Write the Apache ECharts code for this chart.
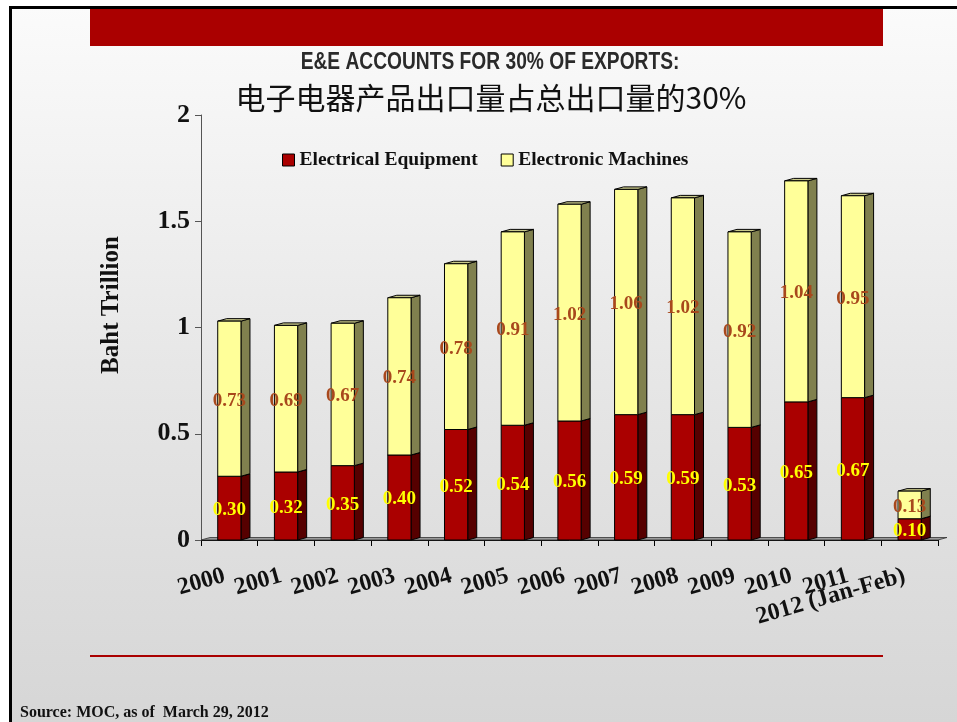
<!DOCTYPE html>
<html>
<head>
<meta charset="utf-8">
<script src="https://cdn.jsdelivr.net/npm/echarts@6/dist/echarts.min.js"></script>
<style>
html,body{margin:0;padding:0;background:#fff;}
#main{width:957px;height:722px;}
</style>
</head>
<body>
<div id="main"></div>
<script>
const categories = ['2000','2001','2002','2003','2004','2005','2006','2007','2008','2009','2010','2011','2012 (Jan-Feb)'];
const electricalEquipment = [0.30,0.32,0.35,0.40,0.52,0.54,0.56,0.59,0.59,0.53,0.65,0.67,0.10];
const electronicMachines = [0.73,0.69,0.67,0.74,0.78,0.91,1.02,1.06,1.02,0.92,1.04,0.95,0.13];
const seriesNames = ['Electrical Equipment','Electronic Machines'];
const yTickValues = [0,0.5,1,1.5,2];

const SERIF = '"Liberation Serif","DejaVu Serif",serif';
const DX = 9, DY = 2.5;

function buildData(base, vals){
  return vals.map((v,i)=>[i, base ? base[i] : 0, (base ? base[i] : 0) + v, v]);
}

function make3DRender(front, side, top, labelColor){
  return function(params, api){
    const idx = api.value(0);
    const lo = api.coord([idx, api.value(1)]);
    const hi = api.coord([idx, api.value(2)]);
    const band = api.size([1,0])[0];
    const w = band*0.41;
    const x0 = lo[0]-w/2, x1 = lo[0]+w/2;
    const yb = lo[1], yt = hi[1];
    const stroke = '#000';
    return {
      type:'group',
      children:[
        {type:'polygon', shape:{points:[[x1,yb],[x1+DX,yb-DY],[x1+DX,yt-DY],[x1,yt]]}, style:{fill:side, stroke:stroke, lineWidth:1}},
        {type:'polygon', shape:{points:[[x0,yt],[x0+DX,yt-DY],[x1+DX,yt-DY],[x1,yt]]}, style:{fill:top, stroke:stroke, lineWidth:1}},
        {type:'rect', shape:{x:x0, y:yt, width:w, height:yb-yt}, style:{fill:front, stroke:stroke, lineWidth:1}},
        {type:'text', x:(x0+x1)/2, y:(yb+yt)/2 + 2, z2:10, style:{text:api.value(3).toFixed(2), fill:labelColor, font:'bold 19px '+SERIF, align:'center', verticalAlign:'middle'}}
      ]
    };
  };
}

const chart = echarts.init(document.getElementById('main'));
const gridLeft = 201, gridRight = 19, gridTop = 115, gridBottom = 182;

const option = {
  backgroundColor:'#ffffff',
  animation:false,
  graphic:[
    {type:'rect', z:-10, shape:{x:9,y:6,width:948,height:716}, style:{fill:{type:'linear',x:0,y:0,x2:0,y2:1,colorStops:[{offset:0,color:'#fbfbfb'},{offset:0.5,color:'#e7e7e7'},{offset:1,color:'#d6d6d6'}]}}},
    {type:'rect', z:-5, shape:{x:9,y:6,width:948,height:3}, style:{fill:'#000'}},
    {type:'rect', z:-5, shape:{x:9,y:6,width:3,height:716}, style:{fill:'#000'}},
    {type:'rect', shape:{x:90,y:9,width:793,height:37}, style:{fill:'#AA0000'}},
    {type:'rect', shape:{x:90,y:655,width:793,height:2}, style:{fill:'#AA0000'}},
    {type:'text', x:490, y:62, scaleX:0.8, style:{text:'E&E ACCOUNTS FOR 30% OF EXPORTS:', font:'bold 24px "Liberation Sans Narrow","Liberation Sans",sans-serif', fill:'#2a2a2a', align:'center', verticalAlign:'middle'}},
    {type:'text', x:491, y:98, style:{text:'电子电器产品出口量占总出口量的30%', font:'30px "Noto Sans CJK SC",sans-serif', fill:'#111', align:'center', verticalAlign:'middle'}},
    {type:'text', x:112, y:305, rotation:Math.PI/2, style:{text:'Baht Trillion', font:'bold 25px '+SERIF, fill:'#111', align:'center', verticalAlign:'middle'}},
    {type:'text', x:20, y:713, style:{text:'Source: MOC, as of  March 29, 2012', font:'bold 16px '+SERIF, fill:'#111', align:'left', verticalAlign:'middle'}},
    {type:'polygon', z:1, shape:{points:[[gridLeft,540],[gridLeft+DX,540-DY],[957-gridRight+DX,540-DY],[957-gridRight,540]]}, style:{fill:'#9a9a9a', stroke:'#333', lineWidth:0.8}}
  ],
  legend:{
    left:277, top:145,
    icon:'rect', itemWidth:12, itemHeight:12, itemGap:23,
    itemStyle:{borderColor:'#000', borderWidth:1},
    textStyle:{fontFamily:SERIF, fontWeight:'bold', fontSize:19.5, color:'#111'},
    data:seriesNames
  },
  grid:{left:gridLeft, right:gridRight, top:gridTop, bottom:gridBottom},
  xAxis:{
    type:'category', data:categories,
    axisLine:{lineStyle:{color:'#000', width:1}},
    axisTick:{show:true, length:6, lineStyle:{color:'#000'}},
    axisLabel:{rotate:16, margin:34, padding:[0,5,0,0], interval:0, fontFamily:SERIF, fontWeight:'bold', fontSize:24, color:'#111'}
  },
  yAxis:{
    type:'value', min:yTickValues[0], max:yTickValues[yTickValues.length-1], interval:0.5,
    axisLine:{show:true, lineStyle:{color:'#555'}},
    axisTick:{show:true, length:6, lineStyle:{color:'#555'}},
    splitLine:{show:false},
    axisLabel:{margin:11, fontFamily:SERIF, fontWeight:'bold', fontSize:26, color:'#111'}
  },
  series:[
    {name:seriesNames[0], type:'custom', z:3, itemStyle:{color:'#AA0000'}, renderItem:make3DRender('#AA0000','#560000','#7a0000','#FFFF00'), data:buildData(null, electricalEquipment), encode:{x:0,y:[1,2]}},
    {name:seriesNames[1], type:'custom', z:4, itemStyle:{color:'#FFFF99'}, renderItem:make3DRender('#FFFF99','#80804E','#c9c98a','#A8481C'), data:buildData(electricalEquipment, electronicMachines), encode:{x:0,y:[1,2]}}
  ]
};
chart.setOption(option);
</script>
</body>
</html>
